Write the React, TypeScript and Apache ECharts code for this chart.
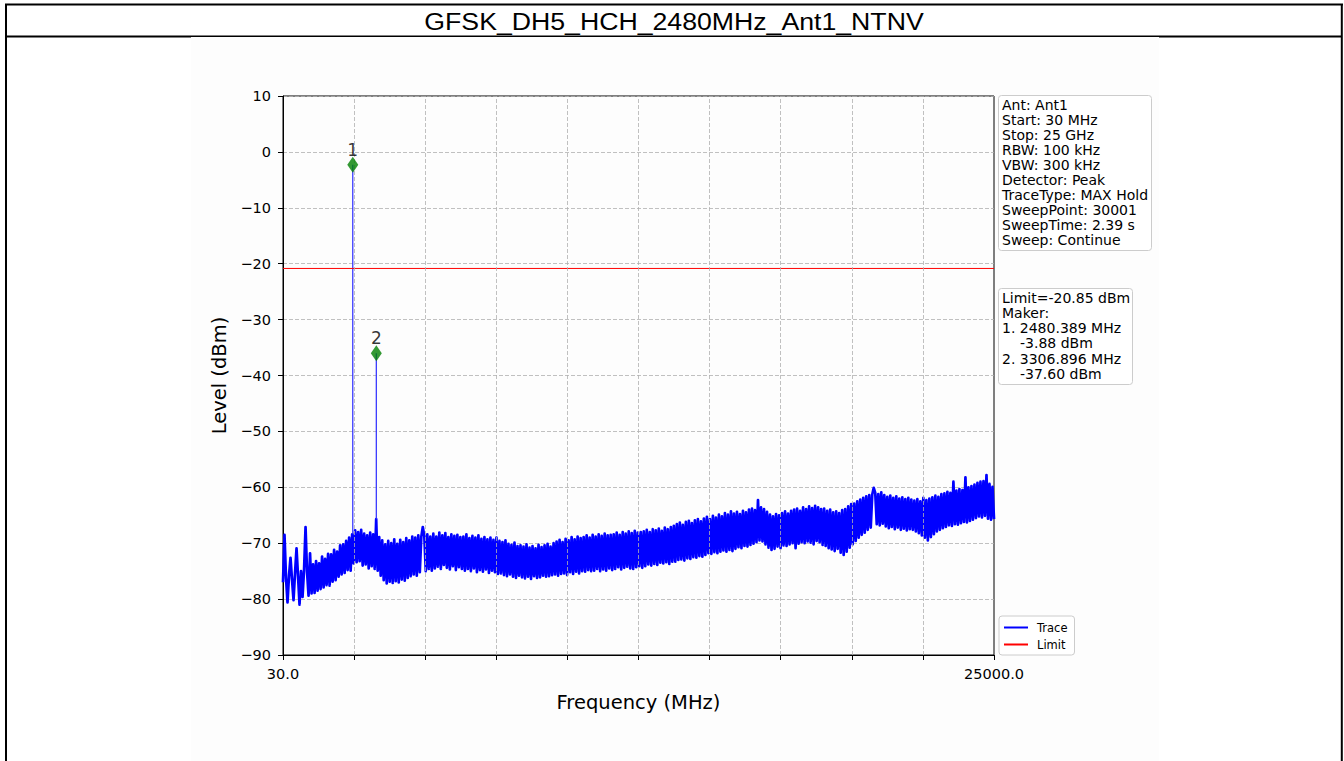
import React, { useEffect, useRef } from "react";
import * as echarts from "echarts";

const TITLE = "GFSK_DH5_HCH_2480MHz_Ant1_NTNV";
const START_MHZ = 30;
const STOP_MHZ = 25000;
const xTickValues = [30, 2527, 5024, 7521, 10018, 12515, 15012, 17509, 20006, 22503, 25000];
const xLabelValues = [30, 25000];
const Y_MIN = -90;
const Y_MAX = 10;
const Y_STEP = 10;
const LIMIT_DBM = -20.85;
const markerFreqs = [2480.389, 3306.896];
const markerLevels = [-2.3, -36.0];
const markerReadouts = [-3.88, -37.6];
const infoLines = [
  "Ant: Ant1",
  "Start: 30 MHz",
  "Stop: 25 GHz",
  "RBW: 100 kHz",
  "VBW: 300 kHz",
  "Detector: Peak",
  "TraceType: MAX Hold",
  "SweepPoint: 30001",
  "SweepTime: 2.39 s",
  "Sweep: Continue",
];

// Trace levels (dBm), evenly spaced from 30 MHz to 25 GHz
const traceLevels = [
  -77.0, -68.5, -76.2, -80.6, -75.8, -72.6, -76.5, -80.2, -75.4, -70.9, -75.9, -81.0, -75.0, -79.6, -74.8, -67.1, -75.2, -79.4, -71.8, -79.0,
  -73.8, -78.9, -73.2, -78.5, -73.6, -78.2, -72.4, -77.9, -72.8, -77.5, -71.9, -77.6, -72.0, -76.9, -71.2, -76.6, -71.5, -76.0, -70.4, -75.6,
  -70.2, -75.3, -69.6, -74.8, -69.0, -74.9, -68.4, -73.6, -67.7, -73.4, -68.0, -73.2, -67.6, -74.0, -68.3, -73.8, -68.6, -74.5, -68.1, -74.1,
  -68.4, -74.6, -65.7, -74.9, -68.9, -75.8, -69.5, -76.6, -70.2, -77.2, -69.6, -76.9, -70.0, -77.1, -69.3, -76.8, -70.1, -77.0, -69.4, -76.5,
  -69.8, -76.7, -69.1, -76.2, -69.5, -75.9, -68.8, -75.6, -69.0, -75.8, -68.6, -75.2, -68.9, -67.1, -68.7, -75.0, -68.4, -74.6, -68.8, -74.9,
  -68.3, -74.5, -68.8, -74.2, -68.1, -74.6, -68.6, -73.9, -68.2, -74.4, -68.9, -74.7, -68.4, -74.1, -68.7, -74.8, -68.5, -74.3, -68.9, -74.6,
  -68.8, -74.9, -68.4, -74.6, -69.1, -75.0, -68.7, -74.5, -69.0, -75.2, -68.6, -74.8, -69.2, -75.1, -68.9, -74.7, -69.3, -75.3, -69.0, -74.9,
  -69.4, -75.2, -69.0, -75.5, -69.6, -75.4, -69.8, -75.7, -69.5, -75.9, -70.1, -75.6, -70.3, -76.0, -69.9, -76.2, -70.5, -75.8, -70.4, -76.1,
  -70.6, -76.3, -70.2, -76.0, -70.8, -76.4, -70.5, -75.9, -70.9, -76.2, -70.3, -76.1, -70.7, -75.8, -70.4, -76.0, -70.1, -75.9, -70.6, -75.7,
  -70.0, -75.6, -69.7, -75.8, -69.4, -75.5, -69.8, -75.4, -69.2, -75.7, -69.5, -75.2, -68.9, -75.5, -69.3, -75.1, -68.8, -75.4, -69.1, -75.0,
  -68.9, -75.1, -68.6, -74.8, -69.0, -75.0, -68.5, -74.9, -68.8, -74.6, -68.4, -75.0, -68.7, -74.7, -68.3, -74.9, -68.6, -74.5, -68.5, -74.8,
  -68.4, -74.6, -68.1, -74.3, -68.5, -74.7, -68.0, -74.4, -68.3, -74.2, -67.9, -74.5, -68.2, -74.6, -67.8, -74.3, -68.1, -74.1, -68.0, -74.4,
  -67.9, -74.1, -67.6, -73.8, -68.0, -74.0, -67.5, -73.7, -67.7, -73.9, -67.4, -73.5, -67.8, -73.6, -67.2, -73.4, -67.5, -73.7, -67.1, -73.3,
  -66.9, -73.3, -66.6, -73.0, -66.3, -72.9, -66.7, -73.1, -66.2, -72.7, -66.0, -72.8, -66.4, -72.5, -65.9, -72.6, -65.7, -72.3, -66.1, -72.4,
  -65.6, -72.1, -65.3, -71.8, -65.7, -71.9, -65.1, -71.6, -65.4, -71.8, -64.9, -71.5, -65.2, -71.3, -64.6, -71.5, -64.9, -71.2, -64.3, -71.4,
  -64.7, -71.0, -64.4, -70.7, -64.8, -70.9, -64.2, -70.5, -64.5, -70.6, -64.0, -70.3, -63.8, -70.1, -64.1, -69.8, -62.3, -69.5, -63.6, -69.7,
  -63.9, -70.2, -64.4, -70.8, -64.9, -71.2, -65.2, -71.0, -64.8, -70.6, -65.0, -70.9, -64.6, -70.4, -64.3, -70.5, -64.7, -70.2, -64.2, -70.0,
  -64.0, -70.9, -63.8, -70.1, -64.2, -69.8, -63.6, -70.0, -63.9, -69.7, -63.4, -69.9, -63.7, -70.2, -63.3, -69.6, -63.6, -69.8, -63.9, -70.3,
  -63.8, -70.5, -64.2, -70.9, -64.0, -71.1, -64.5, -71.4, -64.3, -71.0, -64.6, -71.7, -64.1, -72.1, -63.9, -71.5, -63.4, -70.8, -63.0, -70.2,
  -62.9, -69.6, -62.5, -69.0, -62.2, -68.5, -61.9, -68.1, -61.6, -67.6, -61.4, -67.2, -61.3, -60.1, -61.0, -66.6, -61.2, -66.8, -60.9, -66.5,
  -61.4, -67.0, -61.7, -67.3, -61.5, -67.1, -61.9, -67.5, -61.6, -67.2, -62.0, -67.6, -61.8, -67.4, -62.1, -67.7, -61.9, -67.5, -62.2, -67.6,
  -62.4, -67.9, -62.1, -68.2, -62.5, -68.6, -61.9, -69.0, -62.3, -69.5, -62.0, -68.9, -61.8, -68.4, -61.5, -67.9, -61.7, -67.6, -61.2, -67.3,
  -61.1, -67.1, -60.8, -66.8, -61.0, -66.9, -59.0, -66.6, -60.6, -66.7, -60.3, -66.4, -60.5, -66.2, -58.2, -66.3, -60.0, -66.0, -59.8, -65.8,
  -59.5, -65.5, -59.2, -65.2, -59.0, -65.4, -58.9, -65.1, -57.8, -65.6, -59.4, -65.8, -59.9, -65.7,
];

const MPL_FONT = '"DejaVu Sans", sans-serif';

function fmtY(v: number): string {
  return v < 0 ? "\u2212" + Math.abs(v) : String(v);
}

export default function App() {
  const ref = useRef<HTMLDivElement>(null);

  useEffect(() => {
    if (!ref.current) return;
    const chart = echarts.init(ref.current, null, { renderer: "svg" });

    const step = (STOP_MHZ - START_MHZ) / (traceLevels.length - 1);
    const traceData: number[][] = traceLevels.map((v, i) => [START_MHZ + i * step, v]);

    // thin spike lines from the noise floor up to each marker peak
    const spikeData: (number[] | null)[] = [];
    markerFreqs.forEach((f, k) => {
      const gi = Math.round((f - START_MHZ) / step);
      spikeData.push([f, traceLevels[gi]]);
      spikeData.push([f, markerLevels[k]]);
      spikeData.push(null);
    });

    const box2Lines: { text: string; indent: number }[] = [
      { text: `Limit=${LIMIT_DBM.toFixed(2)} dBm`, indent: 0 },
      { text: "Maker:", indent: 0 },
    ];
    markerFreqs.forEach((f, k) => {
      box2Lines.push({ text: `${k + 1}. ${f.toFixed(3)} MHz`, indent: 0 });
      box2Lines.push({ text: `${markerReadouts[k].toFixed(2)} dBm`, indent: 18 });
    });

    const LINE_H = 15.1;
    const INFO_FS = 14;

    const graphics: any[] = [
      {
        type: "rect",
        z: -10,
        silent: true,
        shape: { x: 191, y: 37, width: 968, height: 724 },
        style: { fill: "#fdfdfd" },
      },
      { type: "line", z: -9, silent: true, shape: { x1: 5, y1: 4.5, x2: 1343, y2: 4.5 }, style: { stroke: "#000", lineWidth: 2 } },
      { type: "line", z: -9, silent: true, shape: { x1: 6, y1: 4, x2: 6, y2: 761 }, style: { stroke: "#000", lineWidth: 2 } },
      { type: "line", z: -9, silent: true, shape: { x1: 1341.8, y1: 4, x2: 1341.8, y2: 761 }, style: { stroke: "#000", lineWidth: 2 } },
      { type: "line", z: -11, silent: true, shape: { x1: 6, y1: 36.5, x2: 1342, y2: 36.5 }, style: { stroke: "#000", lineWidth: 2 } },
      {
        type: "text",
        z: 10,
        x: 674,
        y: 22,
        scaleX: 1.16,
        silent: true,
        style: {
          text: TITLE,
          fontSize: 23,
          fontFamily: '"Liberation Sans", Arial, sans-serif',
          fill: "#000",
          align: "center",
          verticalAlign: "middle",
        },
      },
      {
        type: "rect",
        z: 10,
        silent: true,
        shape: { x: 998.5, y: 95.5, width: 153, height: 155, r: 3 },
        style: { fill: "rgba(255,255,255,0.8)", stroke: "#cccccc", lineWidth: 1 },
      },
      {
        type: "text",
        z: 11,
        x: 1002,
        y: 97,
        silent: true,
        style: {
          text: infoLines.join("\n"),
          fontSize: INFO_FS,
          lineHeight: LINE_H,
          fontFamily: MPL_FONT,
          fill: "#000",
          align: "left",
          verticalAlign: "top",
        },
      },
      {
        type: "rect",
        z: 10,
        silent: true,
        shape: { x: 998.5, y: 288.5, width: 134, height: 96, r: 3 },
        style: { fill: "rgba(255,255,255,0.8)", stroke: "#cccccc", lineWidth: 1 },
      },
      ...box2Lines.map((ln, i) => ({
        type: "text",
        z: 11,
        x: 1002 + ln.indent,
        y: 290.6 + i * LINE_H,
        silent: true,
        style: {
          text: ln.text,
          fontSize: INFO_FS,
          lineHeight: LINE_H,
          fontFamily: MPL_FONT,
          fill: "#000",
          align: "left",
          verticalAlign: "top",
        },
      })),
    ];

    const gridLineStyle = { color: "#b0b0b0", type: [4, 2] as any, width: 0.8 };
    const axisFont = { fontSize: 14.5, fontFamily: MPL_FONT, color: "#000" };
    const nameFont = { fontSize: 19.5, fontFamily: MPL_FONT, color: "#000" };

    const option: any = {
      animation: false,
      backgroundColor: "#ffffff",
      grid: {
        left: 283,
        top: 96,
        width: 711,
        height: 559,
        show: true,
        borderColor: "#000",
        borderWidth: 1,
        backgroundColor: "transparent",
        containLabel: false,
      },
      legend: {
        left: 999,
        top: 616,
        orient: "vertical",
        data: ["Trace", "Limit"],
        icon: "rect",
        itemWidth: 24,
        itemHeight: 2,
        itemGap: 4,
        selectedMode: false,
        backgroundColor: "rgba(255,255,255,0.8)",
        borderColor: "#cccccc",
        borderWidth: 1,
        borderRadius: 3,
        padding: [5, 7, 4, 5],
        textStyle: { fontSize: 11.5, fontFamily: MPL_FONT, color: "#000", lineHeight: 13, padding: [0, 0, 0, 4] },
      },
      xAxis: {
        type: "value",
        min: START_MHZ,
        max: STOP_MHZ,
        name: "Frequency (MHz)",
        nameLocation: "middle",
        nameGap: 37,
        nameTextStyle: nameFont,
        axisLine: { show: true, onZero: false, lineStyle: { color: "#000", width: 1 } },
        axisTick: { show: true, length: 5, customValues: xTickValues, lineStyle: { color: "#000", width: 1 } },
        axisLabel: {
          show: true,
          customValues: xLabelValues,
          formatter: (v: number) => v.toFixed(1),
          margin: 11,
          ...axisFont,
        },
        splitLine: { show: false },
      },
      yAxis: {
        type: "value",
        min: Y_MIN,
        max: Y_MAX,
        interval: Y_STEP,
        name: "Level (dBm)",
        nameLocation: "middle",
        nameGap: 50,
        nameRotate: 90,
        nameTextStyle: nameFont,
        axisLine: { show: true, onZero: false, lineStyle: { color: "#000", width: 1 } },
        axisTick: { show: true, length: 5, lineStyle: { color: "#000", width: 1 } },
        axisLabel: { formatter: fmtY, margin: 12, ...axisFont },
        splitLine: { show: true, lineStyle: gridLineStyle },
      },
      series: [
        {
          type: "line",
          name: "vgrid",
          data: [],
          silent: true,
          z: 1,
          markLine: {
            silent: true,
            symbol: ["none", "none"],
            label: { show: false },
            emphasis: { disabled: true },
            lineStyle: gridLineStyle,
            data: xTickValues.slice(1, -1).map((v) => ({ xAxis: v })),
          },
        },
        {
          type: "line",
          name: "Trace",
          data: traceData,
          symbol: "none",
          showSymbol: false,
          silent: true,
          z: 3,
          lineStyle: { color: "#0000ff", width: 2.7, join: "round" },
          itemStyle: { color: "#0000ff" },
        },
        {
          type: "line",
          name: "Trace",
          data: spikeData,
          connectNulls: false,
          symbol: "none",
          showSymbol: false,
          silent: true,
          z: 3,
          lineStyle: { color: "#2b2bff", width: 1.2 },
          itemStyle: { color: "#0000ff" },
        },
        {
          type: "line",
          name: "Limit",
          data: [
            [START_MHZ, LIMIT_DBM],
            [STOP_MHZ, LIMIT_DBM],
          ],
          symbol: "none",
          showSymbol: false,
          silent: true,
          z: 4,
          lineStyle: { color: "#ff0000", width: 1 },
          itemStyle: { color: "#ff0000" },
        },
        {
          type: "scatter",
          name: "Markers",
          data: markerFreqs.map((f, k) => [f, markerLevels[k]]),
          symbol: "diamond",
          symbolSize: [11, 16],
          silent: true,
          z: 5,
          itemStyle: { color: "#008000" },
          label: {
            show: true,
            position: "inside",
            offset: [0, -15],
            formatter: (p: any) => String(p.dataIndex + 1),
            fontSize: 17,
            fontFamily: MPL_FONT,
            color: "#000",
          },
        },
      ],
      graphic: { elements: graphics },
    };

    chart.setOption(option);
    return () => chart.dispose();
  }, []);

  return (
    <div
      ref={ref}
      style={{ position: "fixed", left: 0, top: 0, width: 1344, height: 761, background: "#fff" }}
    />
  );
}
